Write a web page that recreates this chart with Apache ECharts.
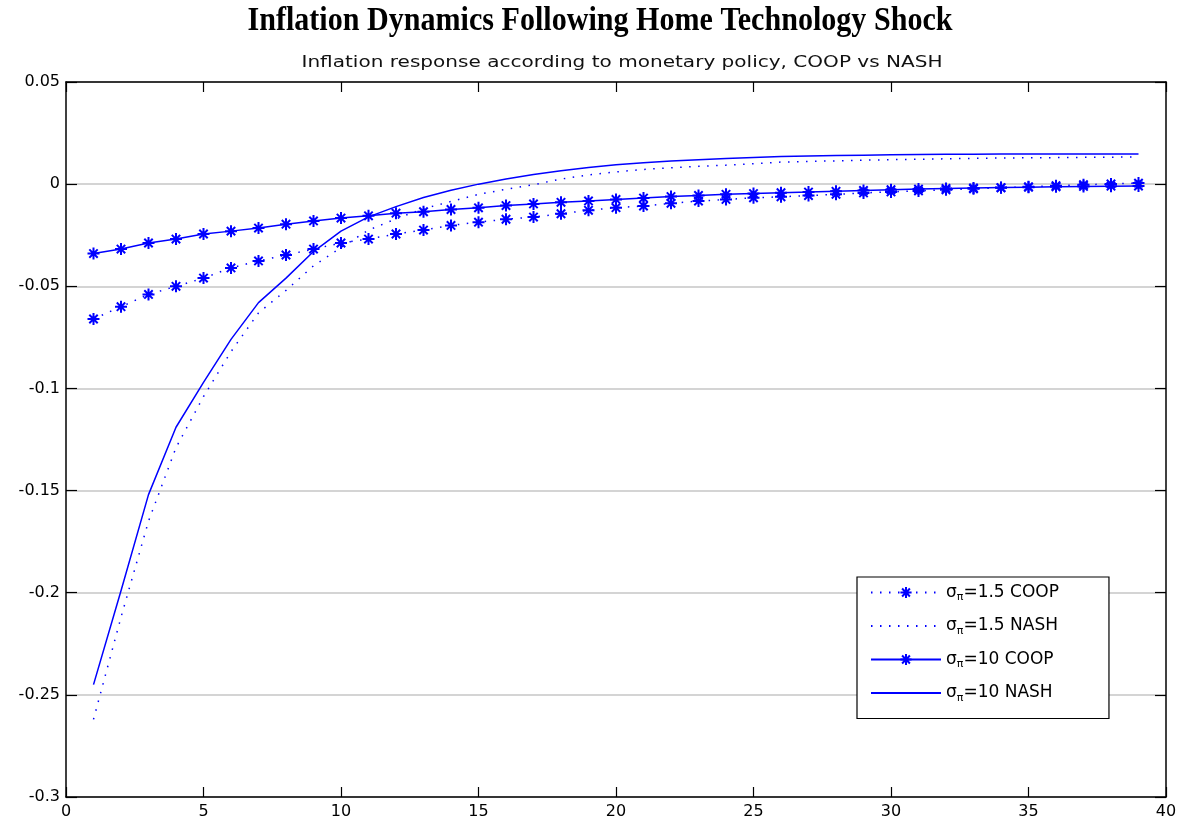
<!DOCTYPE html>
<html>
<head>
<meta charset="utf-8">
<script src="https://cdn.jsdelivr.net/npm/echarts@6/dist/echarts.min.js"></script>
<style>
html,body{margin:0;padding:0;background:#fff;}
#c{width:1187px;height:821px;}
</style>
</head>
<body>
<div id="c"></div>
<script>
const periods = [1,2,3,4,5,6,7,8,9,10,11,12,13,14,15,16,17,18,19,20,21,22,23,24,25,26,27,28,29,30,31,32,33,34,35,36,37,38,39];
const coop15 = [-0.066,-0.060,-0.054,-0.050,-0.046,-0.041,-0.0376,-0.0347,-0.0318,-0.0288,-0.0269,-0.0244,-0.0225,-0.0202,-0.0186,-0.0172,-0.0161,-0.0145,-0.0128,-0.0115,-0.0107,-0.0094,-0.0083,-0.0075,-0.0067,-0.0062,-0.0056,-0.0050,-0.0043,-0.0038,-0.0033,-0.0028,-0.0023,-0.0018,-0.0013,-0.0008,-0.0003,0.0001,0.0005];
const nash15 = [-0.262,-0.212,-0.165,-0.129,-0.104,-0.082,-0.063,-0.052,-0.040,-0.031,-0.0225,-0.017,-0.012,-0.0085,-0.0050,-0.0025,-0.0003,0.0025,0.0045,0.0060,0.0072,0.0080,0.0087,0.0093,0.0100,0.0108,0.0111,0.0114,0.0117,0.0120,0.0122,0.0124,0.0126,0.0128,0.0129,0.0130,0.0131,0.0132,0.0133];
const coop10 = [-0.034,-0.0318,-0.0288,-0.0269,-0.0244,-0.023,-0.0215,-0.0196,-0.018,-0.0166,-0.0155,-0.0142,-0.0135,-0.0124,-0.0116,-0.0105,-0.0097,-0.0089,-0.0082,-0.0075,-0.0068,-0.0061,-0.0055,-0.0050,-0.0046,-0.0042,-0.0039,-0.0035,-0.0031,-0.0027,-0.0024,-0.0021,-0.0019,-0.0017,-0.0015,-0.0013,-0.0011,-0.0010,-0.0009];
const nash10 = [-0.245,-0.199,-0.152,-0.119,-0.097,-0.076,-0.058,-0.046,-0.033,-0.023,-0.0160,-0.0110,-0.0065,-0.0030,0.0000,0.0025,0.0047,0.0065,0.0082,0.0095,0.0105,0.0113,0.0120,0.0126,0.0131,0.0135,0.0138,0.0140,0.0142,0.0144,0.0145,0.0146,0.0146,0.0147,0.0147,0.0148,0.0148,0.0148,0.0148];
const seriesNames = ['s15coop','s15nash','s10coop','s10nash'];
const legendLabels = {s15coop:['1.5','COOP'], s15nash:['1.5','NASH'], s10coop:['10','COOP'], s10nash:['10','NASH']};
const titleText = 'Inflation Dynamics Following Home Technology Shock';
const subtitleText = 'Inflation response according to monetary policy, COOP vs NASH';

const blue = '#0000ff';
const star = 'path://M0 5 L10 5 M5 0 L5 10 M1.5 1.5 L8.5 8.5 M8.5 1.5 L1.5 8.5';
const pairs = arr => periods.map((p,i)=>[p, arr[i]]);

const cv = document.createElement('canvas').getContext('2d');
function fitScale(text, font, target){ cv.font = font; return target / cv.measureText(text).width; }
const titleFont = 'bold 33px "Liberation Serif"';
const subFont = '15px "DejaVu Sans"';
const titleScale = fitScale(titleText, titleFont, 705);
const subScale = fitScale(subtitleText, subFont, 641);

const chart = echarts.init(document.getElementById('c'));
const axisLineStyle = {color:'#000', width:1.5};
const labelFont = {fontFamily:'DejaVu Sans', fontSize:16, color:'#000'};
chart.setOption({
  animation:false,
  backgroundColor:'#fff',
  graphic:[
    {type:'text', x:600, y:21, scaleX:titleScale,
     style:{text:titleText, font:titleFont, fill:'#000', align:'center', verticalAlign:'middle'}},
    {type:'text', x:622, y:63, scaleX:subScale,
     style:{text:subtitleText, font:subFont, fill:'#111', align:'center', verticalAlign:'middle'}}
  ],
  grid:{left:66, right:21, top:82, bottom:24},
  legend:{
    orient:'vertical', left:857, top:577,
    data:seriesNames,
    backgroundColor:'#fff', borderColor:'#000', borderWidth:1.2,
    padding:[7,50,15,13], itemGap:14.5, itemWidth:70, itemHeight:14,
    formatter: n => '{t|σ}{s|π}{t|=' + legendLabels[n][0] + ' ' + legendLabels[n][1] + '}',
    textStyle:{fontFamily:'DejaVu Sans', fontSize:17, color:'#000',
      rich:{t:{fontFamily:'DejaVu Sans', fontSize:17, color:'#000'}, s:{fontFamily:'DejaVu Sans', fontSize:11, color:'#000', padding:[10,0,0,0]}}}
  },
  xAxis:[
    {type:'value', min:0, max:40, interval:5, position:'bottom',
     axisLine:{show:true, onZero:false, lineStyle:axisLineStyle},
     axisTick:{show:true, inside:true, length:10, lineStyle:{color:'#000', width:1.2}},
     axisLabel:Object.assign({margin:7}, labelFont),
     splitLine:{show:false}},
    {type:'value', min:0, max:40, interval:5, position:'top',
     axisLine:{show:true, onZero:false, lineStyle:axisLineStyle},
     axisTick:{show:true, inside:true, length:10, lineStyle:{color:'#000', width:1.2}},
     axisLabel:{show:false}, splitLine:{show:false}}
  ],
  yAxis:[
    {type:'value', min:-0.3, max:0.05, interval:0.05, position:'left',
     axisLine:{show:true, onZero:false, lineStyle:axisLineStyle},
     axisTick:{show:true, inside:true, length:11, lineStyle:{color:'#000', width:1.2}},
     axisLabel:Object.assign({margin:6, formatter: v => String(Math.round(v*100)/100)}, labelFont),
     splitLine:{show:true, lineStyle:{color:'#d4d4d4', width:2}}},
    {type:'value', min:-0.3, max:0.05, interval:0.05, position:'right',
     axisLine:{show:true, onZero:false, lineStyle:axisLineStyle},
     axisTick:{show:true, inside:true, length:11, lineStyle:{color:'#000', width:1.2}},
     axisLabel:{show:false}, splitLine:{show:false}}
  ],
  series:[
    {name:'s15coop', type:'line', data:pairs(coop15), symbol:star, symbolSize:12, showSymbol:true,
     lineStyle:{color:blue, width:1.5, type:[1.5,7.5]},
     itemStyle:{color:blue, borderColor:blue, borderWidth:2}, z:5},
    {name:'s15nash', type:'line', data:pairs(nash15), symbol:'circle', symbolSize:2, showSymbol:false,
     lineStyle:{color:blue, width:1.5, type:[1.5,7.5]},
     itemStyle:{color:'rgba(0,0,0,0)', borderWidth:0}},
    {name:'s10coop', type:'line', data:pairs(coop10), symbol:star, symbolSize:12, showSymbol:true,
     lineStyle:{color:blue, width:1.5, type:'solid'},
     itemStyle:{color:blue, borderColor:blue, borderWidth:2}, z:5},
    {name:'s10nash', type:'line', data:pairs(nash10), symbol:'circle', symbolSize:2, showSymbol:false,
     lineStyle:{color:blue, width:1.5, type:'solid'},
     itemStyle:{color:'rgba(0,0,0,0)', borderWidth:0}}
  ]
});
</script>
</body>
</html>
